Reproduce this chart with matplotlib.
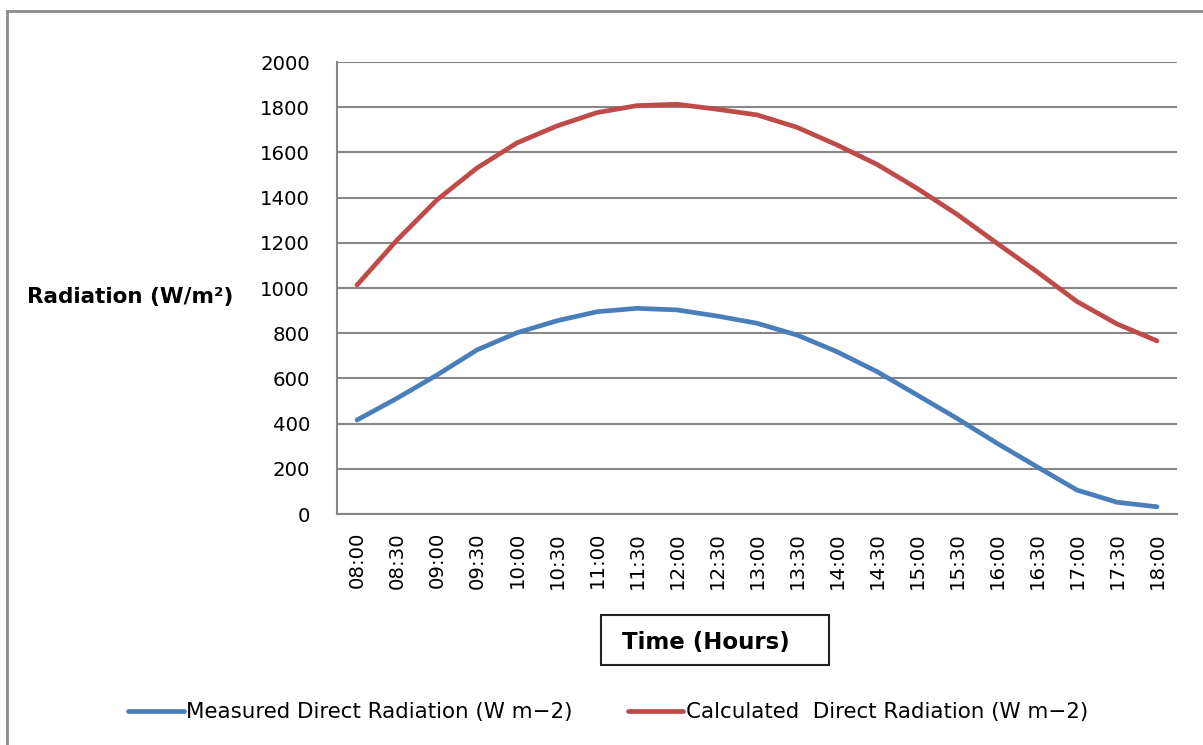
import matplotlib.pyplot as plt
from matplotlib.patches import Rectangle
from matplotlib.lines import Line2D

times = ['08:00', '08:30', '09:00', '09:30', '10:00', '10:30', '11:00', '11:30',
         '12:00', '12:30', '13:00', '13:30', '14:00', '14:30', '15:00', '15:30',
         '16:00', '16:30', '17:00', '17:30', '18:00']
measured = [416, 512, 615, 726, 802, 855, 895, 910, 903, 876, 844,
            792, 718, 630, 527, 423, 313, 209, 106, 52, 32]
calculated = [1013, 1212, 1390, 1531, 1642, 1717, 1776, 1807, 1813, 1791, 1766,
              1711, 1633, 1547, 1441, 1326, 1198, 1072, 940, 841, 766]

plt.rcParams['font.family'] = ['DejaVu Sans']

fig = plt.figure(figsize=(12.03, 7.45), dpi=100)
ax = fig.add_axes([337 / 1203, 1 - 514 / 745, 840 / 1203, 452 / 745])

x = range(len(times))
ax.plot(x, measured, color='#4A7EBB', lw=3.4, solid_capstyle='round',
        label='Measured Direct Radiation (W m\u22122)')
ax.plot(x, calculated, color='#BE4B48', lw=3.4, solid_capstyle='round',
        label='Calculated  Direct Radiation (W m\u22122)')

ax.set_xlim(-0.5, len(times) - 0.5)
ax.set_ylim(0, 2000)
ax.set_yticks(range(0, 2001, 200))
ax.set_xticks(list(x))
ax.set_xticklabels(times, rotation=90)
ax.tick_params(axis='both', length=0, labelsize=14.2)
ax.tick_params(axis='y', pad=19.5)
ax.tick_params(axis='x', pad=13)
ax.yaxis.grid(True, color='#878787', lw=1.5)
ax.set_axisbelow(True)
for s in ['top', 'right']:
    ax.spines[s].set_visible(False)
for s in ['left', 'bottom']:
    ax.spines[s].set_color('#878787')
    ax.spines[s].set_linewidth(1.5)

fig.text(27 / 1203, 1 - 297 / 745, 'Radiation (W/m\u00b2)', fontsize=15.5,
         fontweight='bold', va='center', ha='left')

fig.patches.append(Rectangle((601 / 1203, 1 - 665 / 745), 228 / 1203, 50 / 745,
                             transform=fig.transFigure, fill=False,
                             edgecolor='#222222', lw=1.5))
fig.text(706 / 1203, 1 - 642 / 745, 'Time (Hours)', fontsize=16.5,
         fontweight='bold', ha='center', va='center')

# outer chart border (only top and left edges are inside the picture)
fig.lines.append(Line2D([7 / 1203, 1], [1 - 11 / 745, 1 - 11 / 745],
                        transform=fig.transFigure, color='#8c8c8c', lw=2))
fig.lines.append(Line2D([7 / 1203, 7 / 1203], [0, 1 - 11 / 745],
                        transform=fig.transFigure, color='#8c8c8c', lw=2))

fig.legend(loc='center left', bbox_to_anchor=(128 / 1203, 1 - 712 / 745),
           ncol=2, frameon=False, fontsize=15.4, handlelength=2.6,
           handletextpad=0.1, columnspacing=2.6, borderpad=0, borderaxespad=0)

fig.savefig('out.png', dpi=100)
